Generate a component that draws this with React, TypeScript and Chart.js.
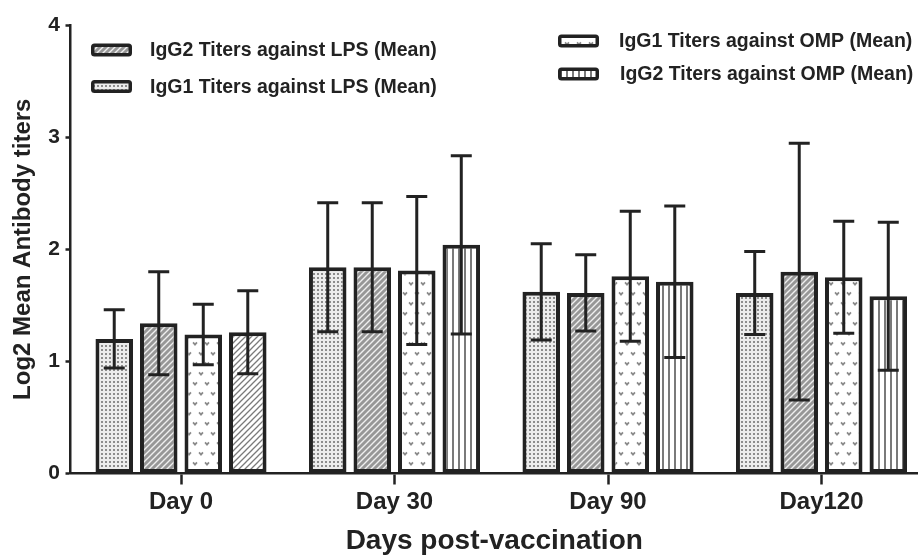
import React, { useEffect, useRef } from 'react';
import { Chart, registerables } from 'chart.js';

Chart.register(...registerables);

// ---------- data ----------
const categories = ['Day 0', 'Day 30', 'Day 90', 'Day120'];

const igg1LpsMean = [1.2, 1.84, 1.62, 1.61];
const igg1LpsErr = [0.26, 0.575, 0.43, 0.37];

const igg2LpsMean = [1.34, 1.84, 1.61, 1.8];
const igg2LpsErr = [0.46, 0.575, 0.34, 1.145];

const igg1OmpMean = [1.24, 1.81, 1.76, 1.75];
const igg1OmpErr = [0.27, 0.66, 0.58, 0.5];

const igg2OmpMean = [1.26, 2.04, 1.71, 1.58];
const igg2OmpErr = [0.37, 0.795, 0.675, 0.66];

const seriesLabels = [
  'IgG1 Titers against LPS (Mean)',
  'IgG2 Titers against LPS (Mean)',
  'IgG1 Titers against OMP (Mean)',
  'IgG2 Titers against OMP (Mean)',
];

const FONT = '"Liberation Sans", Arial, Helvetica, sans-serif';
const INK = '#222222';

function tile(w: number, h: number, draw: (g: CanvasRenderingContext2D) => void): CanvasPattern {
  const c = document.createElement('canvas');
  c.width = w;
  c.height = h;
  const g = c.getContext('2d') as CanvasRenderingContext2D;
  draw(g);
  return g.createPattern(c, 'repeat') as CanvasPattern;
}

function makePatterns() {
  const dots = tile(4, 4, (g) => {
    g.fillStyle = '#ececec';
    g.fillRect(0, 0, 4, 4);
    g.fillStyle = '#8c8c8c';
    g.fillRect(1, 1, 2, 2);
  });
  const diagDense = tile(6, 6, (g) => {
    g.fillStyle = '#979797';
    g.fillRect(0, 0, 6, 6);
    g.strokeStyle = '#efefef';
    g.lineWidth = 1.4;
    g.beginPath();
    g.moveTo(-1, 7);
    g.lineTo(7, -1);
    g.moveTo(-1, 1);
    g.lineTo(1, -1);
    g.moveTo(5, 7);
    g.lineTo(7, 5);
    g.stroke();
  });
  const hearts = tile(12, 20, (g) => {
    g.fillStyle = '#ffffff';
    g.fillRect(0, 0, 12, 20);
    g.fillStyle = '#8a8a8a';
    const v = (x: number, y: number) => {
      g.beginPath();
      g.moveTo(x - 2.6, y - 1);
      g.lineTo(x, y + 2);
      g.lineTo(x + 2.6, y - 1);
      g.lineTo(x + 1.3, y - 2.2);
      g.lineTo(x, y - 0.8);
      g.lineTo(x - 1.3, y - 2.2);
      g.closePath();
      g.fill();
    };
    v(3, 4);
    v(9, 14);
  });
  const vlines = tile(6, 2, (g) => {
    g.fillStyle = '#ffffff';
    g.fillRect(0, 0, 6, 2);
    g.fillStyle = '#7a7a7a';
    g.fillRect(2, 0, 2, 2);
  });
  const diagLight = tile(6, 6, (g) => {
    g.fillStyle = '#ffffff';
    g.fillRect(0, 0, 6, 6);
    g.strokeStyle = '#7a7a7a';
    g.lineWidth = 1.3;
    g.beginPath();
    g.moveTo(-1, 7);
    g.lineTo(7, -1);
    g.moveTo(-1, 1);
    g.lineTo(1, -1);
    g.moveTo(5, 7);
    g.lineTo(7, 5);
    g.stroke();
  });
  return { dots, diagDense, hearts, vlines, diagLight };
}

const errorBarPlugin = {
  id: 'errorBars',
  afterDatasetsDraw(chart: any) {
    const { ctx } = chart;
    const y = chart.scales.y;
    ctx.save();
    ctx.strokeStyle = INK;
    ctx.lineWidth = 3;
    ctx.lineCap = 'butt';
    chart.data.datasets.forEach((ds: any, i: number) => {
      const meta = chart.getDatasetMeta(i);
      meta.data.forEach((bar: any, j: number) => {
        const v = ds.data[j].y;
        const e = ds.errors[j];
        const x = bar.x;
        const yt = y.getPixelForValue(v + e);
        const yb = y.getPixelForValue(v - e);
        const hw = 10.5;
        ctx.beginPath();
        ctx.moveTo(x, yt);
        ctx.lineTo(x, yb);
        ctx.moveTo(x - hw, yt);
        ctx.lineTo(x + hw, yt);
        ctx.moveTo(x - hw, yb);
        ctx.lineTo(x + hw, yb);
        ctx.stroke();
      });
    });
    ctx.restore();
  },
};

const legendPlugin = {
  id: 'customLegend',
  afterDraw(chart: any) {
    const { ctx } = chart;
    const items = [
      { ds: 1, x: 91, y: 50, tx: 150 },
      { ds: 0, x: 91, y: 86.5, tx: 150 },
      { ds: 2, x: 558, y: 41, tx: 619 },
      { ds: 3, x: 558, y: 74, tx: 620 },
    ];
    ctx.save();
    items.forEach((it) => {
      const ds = chart.data.datasets[it.ds];
      const bg = Array.isArray(ds.backgroundColor)
        ? ds.backgroundColor[ds.backgroundColor.length - 1]
        : ds.backgroundColor;
      const w = 41;
      const h = 13;
      const b = 3.5;
      ctx.fillStyle = INK;
      ctx.beginPath();
      (ctx as any).roundRect(it.x, it.y - h / 2, w, h, 3.5);
      ctx.fill();
      ctx.fillStyle = bg;
      ctx.fillRect(it.x + b, it.y - h / 2 + b, w - 2 * b, h - 2 * b);
      ctx.fillStyle = INK;
      ctx.font = `bold 19.5px ${FONT}`;
      ctx.textBaseline = 'middle';
      ctx.textAlign = 'left';
      ctx.fillText(ds.label, it.tx, it.y + 1);
    });
    ctx.restore();
  },
};

export default function App() {
  const ref = useRef<HTMLCanvasElement | null>(null);

  useEffect(() => {
    const canvas = ref.current;
    if (!canvas) return;
    const p = makePatterns();
    const toPts = (arr: number[]) => arr.map((v, i) => ({ x: i, y: v }));
    const common = { borderColor: INK, borderWidth: 4, borderSkipped: false as const };

    const chart = new Chart(canvas, {
      type: 'bar',
      data: {
        datasets: [
          { label: seriesLabels[0], data: toPts(igg1LpsMean), errors: igg1LpsErr, backgroundColor: p.dots, ...common },
          { label: seriesLabels[1], data: toPts(igg2LpsMean), errors: igg2LpsErr, backgroundColor: p.diagDense, ...common },
          { label: seriesLabels[2], data: toPts(igg1OmpMean), errors: igg1OmpErr, backgroundColor: p.hearts, ...common },
          {
            label: seriesLabels[3],
            data: toPts(igg2OmpMean),
            errors: igg2OmpErr,
            backgroundColor: [p.diagLight, p.vlines, p.vlines, p.vlines],
            ...common,
          },
        ] as any,
      },
      options: {
        animation: false,
        responsive: false,
        devicePixelRatio: 1,
        layout: { padding: { top: 25, right: 0, bottom: 0, left: 0 } },
        plugins: { legend: { display: false }, tooltip: { enabled: false } },
        datasets: { bar: { categoryPercentage: 0.834, barPercentage: 0.843 } },
        scales: {
          x: {
            type: 'linear',
            offset: false,
            min: -0.5176,
            max: 3.452,
            afterFit: (s: any) => {
              s.height = 82.5;
            },
            border: { display: true, color: INK, width: 2.5 },
            grid: {
              offset: false,
              drawOnChartArea: false,
              drawTicks: true,
              tickLength: 11,
              tickWidth: 2.5,
              tickColor: INK,
            },
            ticks: {
              stepSize: 1,
              includeBounds: false,
              autoSkip: false,
              maxRotation: 0,
              padding: 3,
              color: INK,
              font: { family: FONT, size: 24, weight: 'bold' },
              callback: (v: any) => {
                const r = Math.round(Number(v));
                return Math.abs(Number(v) - r) < 1e-6 && categories[r] !== undefined ? categories[r] : '';
              },
            },
            title: {
              display: true,
              text: 'Days post-vaccination',
              color: INK,
              font: { family: FONT, size: 28, weight: 'bold', lineHeight: 1 },
              padding: { top: 0, bottom: 1 },
            },
          },
          y: {
            min: 0,
            max: 4,
            afterFit: (s: any) => {
              s.width = 70.5;
            },
            border: { display: true, color: INK, width: 2.5 },
            grid: { drawOnChartArea: false, drawTicks: true, tickLength: 5, tickWidth: 2.5, tickColor: INK },
            ticks: {
              stepSize: 1,
              padding: 5.5,
              color: INK,
              font: { family: FONT, size: 21, weight: 'bold' },
            },
            title: {
              display: true,
              text: 'Log2 Mean Antibody titers',
              color: INK,
              font: { family: FONT, size: 24, weight: 'bold', lineHeight: 1 },
              padding: { top: 11, bottom: 0 },
            },
          },
        },
      } as any,
      plugins: [errorBarPlugin, legendPlugin],
    });

    return () => chart.destroy();
  }, []);

  return (
    <div style={{ position: 'absolute', left: 0, top: 0, width: 918, height: 556, background: '#fff' }}>
      <canvas ref={ref} width={918} height={556} style={{ display: 'block' }} />
    </div>
  );
}
